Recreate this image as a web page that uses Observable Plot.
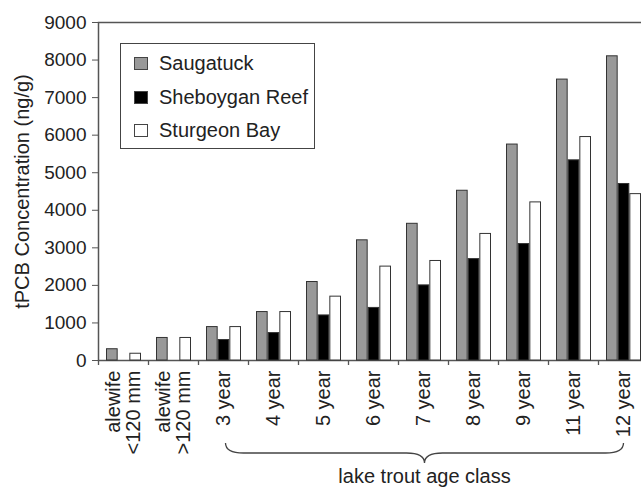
<!DOCTYPE html>
<html>
<head>
<meta charset="utf-8">
<script src="https://cdn.jsdelivr.net/npm/d3@7"></script>
<script src="https://cdn.jsdelivr.net/npm/@observablehq/plot@0.6"></script>
<style>
  html, body { margin: 0; padding: 0; background: #fff; }
  #wrap { position: relative; width: 641px; height: 487px; overflow: hidden; font-family: "Liberation Sans", Arial, sans-serif; }
  #legend { position: absolute; left: 120px; top: 43px; width: 193px; height: 104px; border: 1.5px solid #444; background: #fff; }
  .row { position: absolute; left: 13px; height: 20px; display: flex; align-items: center; font-size: 20px; color: #222; }
  .sw { width: 12px; height: 11px; border: 1.2px solid #444; margin-right: 11px; }
</style>
</head>
<body>
<div id="wrap"></div>
<script>
const categories = ["alewife\n<120 mm", "alewife\n>120 mm", "3 year", "4 year", "5 year", "6 year", "7 year", "8 year", "9 year", "11 year", "12 year"];
const seriesNames = ["Saugatuck", "Sheboygan Reef", "Sturgeon Bay"];
const seriesFill = ["#999999", "#000000", "#ffffff"];
const saugatuck = [300, 600, 890, 1290, 2090, 3200, 3640, 4520, 5750, 7480, 8100];
const sheboygan = [null, null, 545, 730, 1200, 1400, 2000, 2700, 3100, 5330, 4700];
const sturgeon = [180, 600, 890, 1290, 1700, 2500, 2650, 3370, 4210, 5950, 4430];
const yTicks = [0, 1000, 2000, 3000, 4000, 5000, 6000, 7000, 8000, 9000];
const groupLabel = "lake trout age class";
const braceFrom = "3 year", braceTo = "12 year";

const seriesValues = [saugatuck, sheboygan, sturgeon];
const rows = seriesValues.map(vals => categories.map((c, i) => ({cat: c, v: vals[i]})).filter(d => d.v != null));

const bandW = 35, barW = bandW / 3;

function barMark(k) {
  return Plot.barY(rows[k], {
    x: "cat", y: "v",
    fill: seriesFill[k], stroke: "#333", strokeWidth: 1,
    insetLeft: k * barW + 0.5, insetRight: (2 - k) * barW + 0.5
  });
}

// category separator ticks and brace, derived from the x scale
function extras(index, scales, values, dimensions) {
  const x = scales.x;
  const ns = "http://www.w3.org/2000/svg";
  const g = document.createElementNS(ns, "g");
  const bw = typeof x.bandwidth === "function" ? x.bandwidth() : x.bandwidth;
  const step = x(categories[1]) - x(categories[0]);
  const off = (step - bw) / 2;
  const yb = dimensions.height - dimensions.marginBottom;
  const edges = categories.map(c => x(c) - off).concat([x(categories[categories.length - 1]) - off + step]);
  for (const e of edges) {
    const l = document.createElementNS(ns, "line");
    l.setAttribute("x1", e); l.setAttribute("x2", e);
    l.setAttribute("y1", yb); l.setAttribute("y2", yb + 5);
    l.setAttribute("stroke", "#555"); l.setAttribute("stroke-width", 1.3);
    g.appendChild(l);
  }
  const x1 = x(braceFrom) + bw / 2 + 2, x2 = x(braceTo) + bw / 2;
  const xm = (x1 + x2) / 2;
  const y0 = yb + 83, ym = yb + 93, yt = yb + 103;
  const p = document.createElementNS(ns, "path");
  p.setAttribute("d", `M${x1},${y0} Q${x1},${ym} ${x1 + 18},${ym} L${xm - 18},${ym} Q${xm},${ym} ${xm},${yt} Q${xm},${ym} ${xm + 18},${ym} L${x2 - 18},${ym} Q${x2},${ym} ${x2},${y0}`);
  p.setAttribute("fill", "none"); p.setAttribute("stroke", "#444"); p.setAttribute("stroke-width", 1.3);
  g.appendChild(p);
  const t = document.createElementNS(ns, "text");
  t.setAttribute("x", xm); t.setAttribute("y", yb + 123);
  t.setAttribute("text-anchor", "middle");
  t.setAttribute("font-size", 20); t.setAttribute("fill", "#222");
  t.textContent = groupLabel;
  g.appendChild(t);
  return g;
}

const chart = Plot.plot({
  width: 641, height: 487,
  marginLeft: 98, marginRight: -7, marginTop: 22, marginBottom: 127,
  style: {fontFamily: "'Liberation Sans', Arial, sans-serif", color: "#222", background: "transparent"},
  x: {domain: categories, paddingInner: 0.3, paddingOuter: 0.15, label: null},
  y: {domain: [0, 9000], label: null},
  marks: [
    Plot.frame({stroke: "#555", strokeWidth: 1.5}),
    barMark(0), barMark(1), barMark(2),
    Plot.axisY({ticks: yTicks, tickSize: 6, tickPadding: 6, fontSize: 19, stroke: "#555", tickFormat: d => String(d), label: null}),
    Plot.axisX({tickRotate: -90, tickSize: 0, tickPadding: 10, fontSize: 20, label: null}),
    Plot.text(["tPCB Concentration (ng/g)"], {frameAnchor: "left", textAnchor: "middle", lineAnchor: "middle", rotate: -90, dx: -76, fontSize: 20, fill: "#222"}),
    extras
  ]
});
const wrap = document.getElementById("wrap");
wrap.appendChild(chart);

const legend = document.createElement("div");
legend.id = "legend";
const rowTops = [9, 43, 76];
seriesNames.forEach((name, k) => {
  const r = document.createElement("div");
  r.className = "row";
  r.style.top = rowTops[k] + "px";
  const sw = document.createElement("div");
  sw.className = "sw";
  sw.style.background = seriesFill[k];
  r.appendChild(sw);
  r.appendChild(document.createTextNode(name));
  legend.appendChild(r);
});
wrap.appendChild(legend);
</script>
</body>
</html>
